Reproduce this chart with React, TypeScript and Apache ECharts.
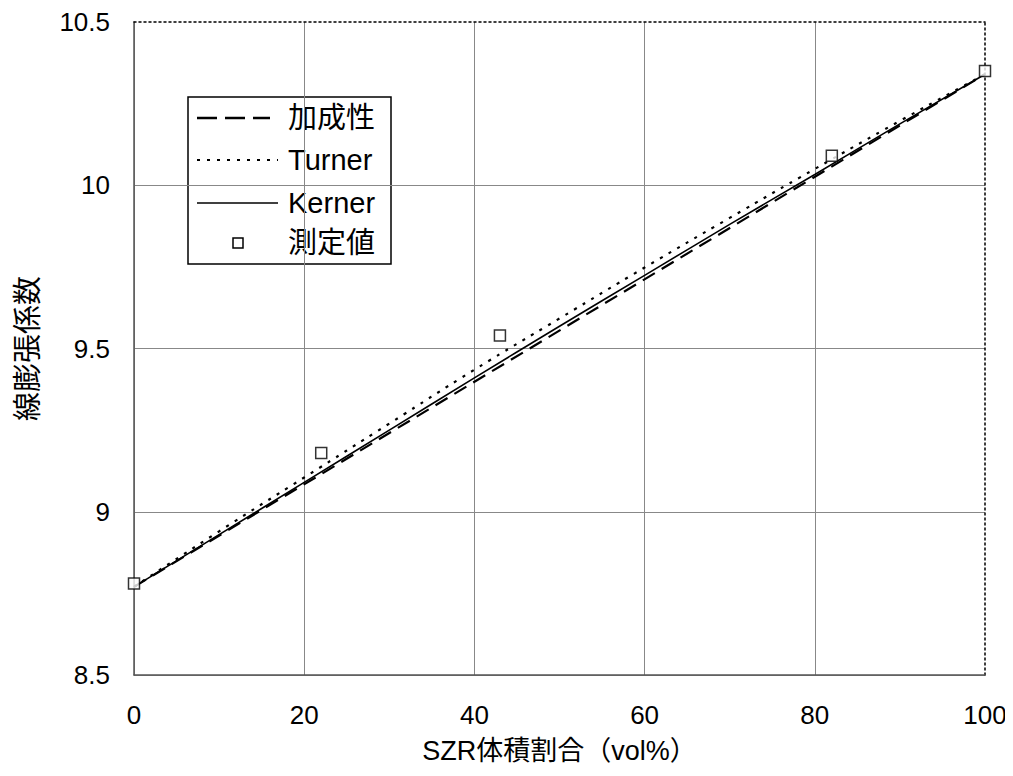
import React, { useEffect, useRef } from "react";
import * as echarts from "echarts";

// SZR volume fraction (vol%) at which the model curves are sampled
const fractions = [0, 10, 20, 30, 40, 50, 60, 70, 80, 90, 100];
// Rule of mixtures (加成性): a straight line between the two end members
const additiveX = [0, 100];
const additiveY = [8.77, 10.34];
// Turner model
const turnerY = [8.77, 8.94, 9.105, 9.27, 9.435, 9.592, 9.748, 9.9, 10.05, 10.197, 10.34];
// Kerner model
const kernerY = [8.77, 8.93, 9.09, 9.25, 9.41, 9.568, 9.724, 9.88, 10.033, 10.188, 10.34];
// Measured values (測定値)
const measuredX = [0, 22, 43, 82, 100];
const measuredY = [8.78, 9.18, 9.54, 10.09, 10.35];

const seriesNames = ["加成性", "Turner", "Kerner", "測定値"];

const FONT = "'Liberation Sans', 'Noto Sans CJK JP', sans-serif";

const DASH = [14, 8];
const DOT = [3, 7];

export default function App() {
  const ref = useRef<HTMLDivElement>(null);

  useEffect(() => {
    if (!ref.current) return;
    const chart = echarts.init(ref.current, undefined, { renderer: "svg" });
    const pairs = (xs: number[], ys: number[]) => xs.map((x, i) => [x, ys[i]]);

    // Hand-drawn legend box
    const lx = 188;
    const ly = 97;
    const rows = [21, 63, 106, 146];
    const sampleX1 = 9;
    const sampleX2 = 90;
    const textX = 100;
    const legendChildren: any[] = [
      {
        type: "rect",
        shape: { x: 0, y: 0, width: 203, height: 167 },
        style: { fill: "#fff", stroke: "#000", lineWidth: 1.5 },
      },
      {
        type: "line",
        shape: { x1: sampleX1, y1: rows[0], x2: sampleX2 - 8, y2: rows[0] },
        style: { stroke: "#000", lineWidth: 2.5, lineDash: [20, 8] },
      },
      {
        type: "line",
        shape: { x1: sampleX1, y1: rows[1], x2: sampleX2, y2: rows[1] },
        style: { stroke: "#000", lineWidth: 2.2, lineDash: [3, 7] },
      },
      {
        type: "line",
        shape: { x1: sampleX1, y1: rows[2], x2: sampleX2, y2: rows[2] },
        style: { stroke: "#000", lineWidth: 1.5 },
      },
      {
        type: "rect",
        shape: { x: 45, y: rows[3] - 5, width: 10, height: 10 },
        style: { fill: "#fff", stroke: "#000", lineWidth: 1.5 },
      },
      ...seriesNames.map((name, i) => ({
        type: "text",
        x: textX,
        y: rows[i],
        style: {
          text: name,
          fontFamily: FONT,
          fontSize: 29,
          fill: "#000",
          align: "left",
          verticalAlign: "middle",
        },
      })),
    ];

    chart.setOption({
      animation: false,
      backgroundColor: "#ffffff",
      textStyle: { fontFamily: FONT, color: "#000" },
      grid: { left: 134, right: 28, top: 22, bottom: 101 },
      xAxis: [
        {
          type: "value",
          min: 0,
          max: 100,
          interval: 20,
          name: "SZR体積割合（vol%）",
          nameLocation: "middle",
          nameGap: 62,
          nameTextStyle: { fontFamily: FONT, fontSize: 27, color: "#000" },
          axisLine: { show: true, onZero: false, lineStyle: { color: "#555", width: 1.5 } },
          axisTick: { show: false },
          axisLabel: { fontFamily: FONT, fontSize: 26, color: "#000", margin: 27 },
          splitLine: { show: true, showMaxLine: false, lineStyle: { color: "#888", width: 1 } },
        },
        {
          type: "value",
          position: "top",
          min: 0,
          max: 100,
          axisLine: { show: true, onZero: false, lineStyle: { color: "#000", width: 1.5, type: [2, 3] } },
          axisTick: { show: false },
          axisLabel: { show: false },
          splitLine: { show: false },
        },
      ],
      yAxis: [
        {
          type: "value",
          min: 8.5,
          max: 10.5,
          interval: 0.5,
          name: "線膨張係数",
          nameLocation: "middle",
          nameGap: 92,
          nameRotate: 90,
          nameTextStyle: { fontFamily: FONT, fontSize: 29, color: "#000" },
          axisLine: { show: true, onZero: false, lineStyle: { color: "#555", width: 1.5 } },
          axisTick: { show: false },
          axisLabel: { fontFamily: FONT, fontSize: 26, color: "#000", margin: 24 },
          splitLine: { show: true, showMaxLine: false, lineStyle: { color: "#888", width: 1 } },
        },
        {
          type: "value",
          position: "right",
          min: 8.5,
          max: 10.5,
          axisLine: { show: true, onZero: false, lineStyle: { color: "#000", width: 1.5, type: [2, 3] } },
          axisTick: { show: false },
          axisLabel: { show: false },
          splitLine: { show: false },
        },
      ],
      series: [
        {
          name: seriesNames[0],
          type: "line",
          data: pairs(additiveX, additiveY),
          symbol: "none",
          lineStyle: { color: "#000", width: 2.2, type: DASH },
        },
        {
          name: seriesNames[1],
          type: "line",
          data: pairs(fractions, turnerY),
          smooth: true,
          symbol: "none",
          lineStyle: { color: "#000", width: 2.2, type: DOT },
        },
        {
          name: seriesNames[2],
          type: "line",
          data: pairs(fractions, kernerY),
          smooth: true,
          symbol: "none",
          lineStyle: { color: "#000", width: 1.6, type: "solid" },
        },
        {
          name: seriesNames[3],
          type: "scatter",
          data: pairs(measuredX, measuredY),
          symbol: "rect",
          symbolSize: 11,
          itemStyle: { color: "#fff", borderColor: "#000", borderWidth: 1.5 },
          z: 5,
        },
      ],
      graphic: [
        {
          type: "group",
          x: lx,
          y: ly,
          z: 100,
          children: legendChildren,
        },
      ],
    });

    return () => chart.dispose();
  }, []);

  return <div ref={ref} style={{ width: 1013, height: 776, margin: -8 }} />;
}
